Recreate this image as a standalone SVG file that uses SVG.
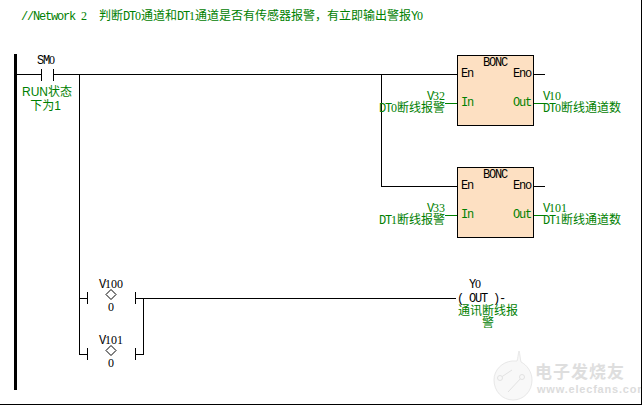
<svg xmlns="http://www.w3.org/2000/svg" width="642" height="405" viewBox="0 0 642 405">
<style>
text{font-family:"Liberation Mono","Noto Sans CJK SC",monospace;font-size:12px;letter-spacing:-1.2px;white-space:pre}
tspan.n{font-family:"Liberation Serif",serif;letter-spacing:0}
.z{font-family:"Noto Sans CJK SC",sans-serif;letter-spacing:0}
.k{fill:#000}
.g{fill:#008000}
.s{font-family:"Liberation Sans","Noto Sans CJK SC",sans-serif;letter-spacing:0}
.m{text-anchor:middle}
.w{fill:none;stroke:#000;stroke-width:1;shape-rendering:crispEdges}
.gw{fill:none;stroke:#008000;stroke-width:1;shape-rendering:crispEdges}
.b{fill:#fde0c2;stroke:#000;stroke-width:1;shape-rendering:crispEdges}
.d{fill:none;stroke:#000;stroke-width:1}
</style>
<rect width="642" height="405" fill="#fff"/>
<g id="watermark">
<path d="M512 361c-10 1-18 9-18 19 0 11 8 20 19 20s19-9 19-20c0-8-5-15-11-18-1-4-1-8-2-11-1 4-1 7-2 10z" fill="#f8f8f8" stroke="#e8e8e8"/>
<path d="M500 378l12-8M522 377l-14 15" fill="none" stroke="#e2e2e2"/>
<circle cx="500" cy="378" r="2.500" fill="#f8f8f8" stroke="#e2e2e2"/>
<circle cx="522" cy="377" r="2.500" fill="#f8f8f8" stroke="#e2e2e2"/>
<text x="535" y="378" style="font-size:17px;letter-spacing:1px;font-family:'Noto Sans CJK SC',sans-serif;fill:#dedede;font-weight:700">电子发烧友</text>
<text x="537" y="393" style="font-size:11px;letter-spacing:.8px;font-family:'Liberation Sans',sans-serif;font-weight:700;fill:#dcdcdc">www.elecfans.com</text>
</g>
<g id="frame">
<path class="w" d="M641.500 0V404.500H0"/>
</g>
<g id="title"><text x="21" y="20" class="g">//Network <tspan class="n">2</tspan><tspan class="z" x="99">判断</tspan><tspan x="123">DT<tspan class="n">0</tspan></tspan><tspan class="z" x="141">通道和</tspan><tspan x="177">DT<tspan class="n">1</tspan></tspan><tspan class="z" x="195">通道是否有传感器报警，有立即输出警报</tspan><tspan x="411">Y<tspan class="n">0</tspan></tspan></text></g>
<g id="connectors">
<rect x="14" y="54" width="3" height="336" fill="#000"/>
<path class="w" d="M17 74.500H41.500M53.500 74.500H457M79.500 74.500V354.500H87M381.500 74.500V186.500H457"/>
<path class="w" d="M79.500 298.500H87M135.500 298.500H456M135.500 354.500H143.500V298.500"/>
<path class="w" d="M533 74.500H545M533 186.500H545"/>
<path class="gw" d="M445 103.500H457M533 103.500H545M445 215.500H457M533 215.500H545"/>
</g>
<g id="SM0">
<path class="w" d="M41.500 68.500V80.500M53.500 68.500V80.500"/>
<text class="k" x="37" y="64">SM<tspan class="n">0</tspan></text>
<text class="g m s" x="47" y="95.500">RUN状态</text>
<text class="g m s" x="45.500" y="110">下为1</text>
</g>
<g id="BONC1">
<rect class="b" x="457.500" y="55.500" width="76" height="70"/>
<text class="k" x="483" y="66">BONC</text>
<text class="k" x="461" y="77">En</text>
<text class="k" x="513" y="77">Eno</text>
<text class="g" x="461" y="106">In</text>
<text class="g" x="513" y="106">Out</text>
<text class="g" x="427" y="100">V<tspan class="n">32</tspan></text>
<text class="g" x="379" y="112">DT<tspan class="n">0</tspan><tspan class="z" x="397">断线报警</tspan></text>
<text class="g" x="543" y="100">V<tspan class="n">10</tspan></text>
<text class="g" x="543" y="112">DT<tspan class="n">0</tspan><tspan class="z" x="561">断线通道数</tspan></text>
</g>
<g id="BONC2">
<rect class="b" x="457.500" y="167.500" width="76" height="70"/>
<text class="k" x="483" y="178">BONC</text>
<text class="k" x="461" y="189">En</text>
<text class="k" x="513" y="189">Eno</text>
<text class="g" x="461" y="218">In</text>
<text class="g" x="513" y="218">Out</text>
<text class="g" x="427" y="212">V<tspan class="n">33</tspan></text>
<text class="g" x="379" y="224">DT<tspan class="n">1</tspan><tspan class="z" x="397">断线报警</tspan></text>
<text class="g" x="543" y="212">V<tspan class="n">101</tspan></text>
<text class="g" x="543" y="224">DT<tspan class="n">1</tspan><tspan class="z" x="561">断线通道数</tspan></text>
</g>
<g id="V100">
<path class="w" d="M87.500 291.500V303.500M135.500 291.500V303.500"/>
<path class="d" d="M111 289.500l5 5-5 5-5-5z"/>
<text class="k" x="99" y="287.500">V<tspan class="n">100</tspan></text>
<text class="k" x="108" y="311"><tspan class="n">0</tspan></text>
</g>
<g id="V101">
<path class="w" d="M87.500 347.500V359.500M135.500 347.500V359.500"/>
<path class="d" d="M111 345.500l5 5-5 5-5-5z"/>
<text class="k" x="99" y="343.500">V<tspan class="n">101</tspan></text>
<text class="k" x="108" y="367"><tspan class="n">0</tspan></text>
</g>
<g id="Y0">
<text class="k" x="469" y="287.500">Y<tspan class="n">0</tspan></text>
<text class="k" x="457" y="302">( OUT )-</text>
<text class="g z" x="458" y="315">通讯断线报</text>
<text class="g z" x="482" y="327">警</text>
</g>
</svg>
